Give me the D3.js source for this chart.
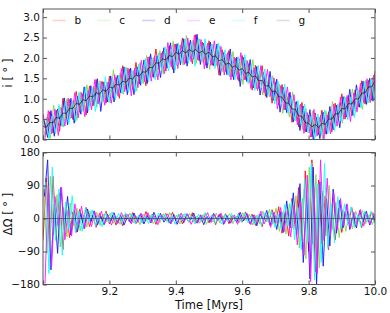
<!DOCTYPE html>
<html>
<head>
<meta charset="utf-8">
<script src="https://cdn.jsdelivr.net/npm/d3@7"></script>
<style>
  body { margin: 0; background: #fff; }
  svg text { font-family: "DejaVu Sans", sans-serif; }
</style>
</head>
<body>
<svg id="chart" width="390" height="313"></svg>
<script>
// planets and their colours
const planetNames = ["b", "c", "d", "e", "f", "g"];
const planetColors = ["#ff1414", "#82d84c", "#1a1aff", "#ff18ff", "#14ffff", "#000000"];

// sample times [Myr]: step 0.01, each planet's output is offset a little
const sampleStep = 0.01;
const sampleShift = [0, 0.002, 0.004, 0.006, 0.008, 0];

// inclination i [deg]
const incB = [0.63,0.13,0.68,0.16,0.72,0.20,1.01,0.52,0.98,0.49,
  1.18,0.67,1.12,0.60,1.31,0.82,1.47,0.96,1.42,0.89,
  1.55,1.03,1.52,1.01,1.81,1.23,1.73,1.23,1.89,1.36,
  1.80,1.32,2.03,1.54,2.22,1.70,2.16,1.68,2.30,1.72,
  2.34,1.94,2.49,1.87,2.37,1.86,2.57,1.93,2.39,1.82,
  2.42,1.82,2.19,1.58,2.20,1.67,2.18,1.54,1.99,1.43,
  2.06,1.47,1.86,1.21,1.82,1.25,1.81,1.06,1.48,0.89,
  1.41,0.84,1.35,0.73,1.13,0.42,0.92,0.31,0.91,0.19,
  0.60,0.06,0.65,0.12,0.72,0.14,0.68,0.19,0.89,0.48,
  1.12,0.50,1.08,0.58,1.22,0.80,1.44,0.87,1.45,0.96,
  1.68];
const incC = [0.00,0.55,0.03,0.84,0.35,0.80,0.31,1.00,0.51,0.97,
  0.47,1.17,0.69,1.34,0.85,1.31,0.79,1.44,0.92,1.41,
  0.90,1.71,1.12,1.62,1.11,1.77,1.25,1.69,1.19,1.88,
  1.37,2.06,1.53,2.01,1.54,2.18,1.60,2.22,1.84,2.41,
  1.82,2.32,1.82,2.55,1.95,2.44,1.87,2.47,1.89,2.30,
  1.72,2.34,1.81,2.30,1.66,2.09,1.54,2.16,1.59,1.98,
  1.35,1.95,1.39,1.96,1.24,1.67,1.09,1.60,1.04,1.56,
  0.95,1.36,0.64,1.15,0.55,1.16,0.45,0.85,0.25,0.76,
  0.16,0.70,0.07,0.54,0.02,0.70,0.28,0.93,0.31,0.90,
  0.40,1.04,0.62,1.24,0.66,1.22,0.74,1.45,0.90,1.52,
  1.10];
const incD = [0.46,0.05,0.71,0.08,0.75,0.34,1.02,0.36,1.01,0.40,
  1.06,0.62,1.29,0.65,1.32,0.84,1.49,0.69,1.41,0.92,
  1.56,0.92,1.57,1.15,1.78,1.10,1.75,1.10,1.78,1.33,
  1.95,1.37,2.10,1.52,2.05,1.52,2.25,1.75,2.37,1.63,
  2.35,1.83,2.47,1.80,2.44,1.97,2.58,1.84,2.36,1.75,
  2.39,1.81,2.34,1.57,2.13,1.59,2.22,1.47,2.02,1.30,
  2.01,1.42,1.96,1.27,1.79,1.09,1.64,1.03,1.67,0.96,
  1.48,0.67,1.28,0.66,1.16,0.43,0.93,0.22,0.82,0.19,
  0.73,0.01,0.54,0.02,0.67,0.13,0.81,0.24,0.84,0.29,
  1.05,0.55,1.23,0.59,1.34,0.79,1.43,0.86,1.50,0.94,
  1.83];
const incE = [0.01,0.71,0.14,0.74,0.10,0.77,0.33,1.01,0.53,1.15,
  0.53,1.15,0.56,1.20,0.73,1.47,0.87,1.42,0.84,1.41,
  0.89,1.59,1.06,1.74,1.17,1.75,1.07,1.75,1.27,1.94,
  1.42,2.02,1.43,2.05,1.46,2.12,1.62,2.38,1.78,2.34,
  1.74,2.32,1.84,2.49,1.91,2.56,1.95,2.45,1.73,2.36,
  1.82,2.42,1.81,2.28,1.58,2.13,1.46,2.02,1.47,2.13,
  1.46,1.93,1.25,1.76,1.20,1.81,1.15,1.72,1.06,1.51,
  0.75,1.32,0.72,1.29,0.65,1.10,0.36,0.87,0.15,0.66,
  0.06,0.74,0.09,0.60,0.00,0.60,0.14,0.87,0.33,1.04,
  0.50,1.08,0.44,1.14,0.68,1.38,0.90,1.49,0.91,1.58,
  1.02];
const incF = [0.54,0.02,0.58,0.14,0.86,0.31,0.93,0.39,0.95,0.43,
  1.15,0.69,1.28,0.72,1.27,0.69,1.39,0.92,1.54,0.91,
  1.45,0.97,1.58,1.12,1.77,1.15,1.69,1.17,1.85,1.38,
  1.98,1.42,1.97,1.47,2.12,1.68,2.28,1.68,2.22,1.70,
  2.36,1.88,2.46,1.87,2.39,1.80,2.47,1.95,2.47,1.86,
  2.34,1.74,2.37,1.74,2.20,1.57,2.04,1.46,2.03,1.49,
  2.08,1.37,1.83,1.20,1.82,1.27,1.73,1.08,1.52,0.87,
  1.43,0.86,1.36,0.63,1.05,0.46,0.96,0.37,0.87,0.16,
  0.58,0.00,0.63,0.12,0.72,0.14,0.70,0.21,0.87,0.44,
  1.06,0.48,1.04,0.54,1.22,0.78,1.42,0.89,1.47,0.98,
  1.70];
const incG = [0.32,0.30,0.42,0.41,0.54,0.52,0.65,0.64,0.77,0.76,
  0.89,0.86,0.98,0.95,1.07,1.04,1.15,1.11,1.22,1.18,
  1.29,1.26,1.36,1.33,1.43,1.40,1.51,1.48,1.59,1.55,
  1.66,1.65,1.77,1.76,1.88,1.87,1.98,1.95,2.06,2.03,
  2.14,2.09,2.18,2.12,2.21,2.15,2.21,2.12,2.17,2.09,
  2.14,2.03,2.05,1.93,1.96,1.84,1.88,1.77,1.81,1.70,
  1.74,1.62,1.65,1.53,1.56,1.44,1.45,1.31,1.32,1.18,
  1.19,1.05,1.04,0.90,0.89,0.75,0.74,0.58,0.57,0.41,
  0.40,0.31,0.37,0.29,0.40,0.37,0.50,0.50,0.63,0.63,
  0.76,0.75,0.88,0.87,1.00,0.99,1.14,1.14,1.29,1.29,
  1.44];

// node difference dOmega [deg]
const nodeB = [-60,110,-90,115,-40,70,-85,30,-52,18,
  -38,25,-12,30,-22,8,-24,14,-6,20,
  -15,10,-18,4,-20,12,-8,16,-14,6,
  -11,19,-4,12,-16,9,-2,14,-12,17,
  -7,11,-15,5,-10,16,-13,3,-9,14,
  -12,8,-17,11,-5,13,-14,9,-6,15,
  -10,18,-8,12,-19,6,-22,14,-10,24,
  -18,32,-40,22,-48,55,-30,85,-60,130,
  -90,160,-145,105,-70,62,-85,35,-58,28,
  -38,20,-14,30,-22,9,-25,16,-8,18,
  -12];
const nodeC = [80,-95,115,-45,65,-78,30,-50,42,-20,
  28,-33,10,-24,20,-6,17,-19,11,-9,
  14,-13,5,-16,10,-4,15,-12,7,-17,
  12,-6,10,-14,3,-11,13,-8,16,-5,
  9,-15,12,-3,14,-10,6,-13,11,-16,
  4,-9,15,-12,8,-3,13,-14,7,-11,
  16,-6,12,-18,9,-14,20,-10,25,-16,
  28,-35,18,-42,40,-25,62,-80,55,-110,
  140,-70,120,-135,75,-48,90,-30,45,-52,
  22,-35,12,-28,20,-8,22,-14,10,-17,
  12];
const nodeD = [60,160,-140,40,-95,85,-30,60,-45,22,
  -36,14,-28,26,-9,21,-18,6,-17,12,
  -8,16,-13,9,-18,4,-12,15,-6,13,
  -15,8,-12,17,-5,14,-10,3,-14,11,
  -16,7,-11,13,-4,15,-12,10,-17,6,
  -9,14,-3,12,-16,8,-13,5,-11,17,
  -7,13,-15,9,-20,12,-6,22,-19,15,
  -30,20,-38,48,-26,70,-45,95,-120,60,
  -165,140,-180,100,-130,55,-75,80,-40,50,
  -25,38,-30,14,-26,22,-10,20,-18,8,
  -14];
const nodeE = [-178,90,-130,60,-20,85,-58,25,-48,40,
  -15,34,-25,12,-22,18,-7,20,-14,9,
  -18,6,-13,16,-4,12,-15,9,-11,14,
  -5,16,-12,7,-17,10,-3,13,-14,6,
  -10,15,-8,12,-16,4,-13,9,-6,16,
  -11,12,-7,15,-14,3,-12,10,-16,8,
  -4,13,-17,10,-12,20,-15,8,-24,18,
  -14,30,-36,22,-50,35,-72,45,-100,118,
  -172,85,-150,160,-60,110,-48,70,-30,55,
  -20,40,-28,18,-12,25,-20,10,-16,14,
  -9];
const nodeF = [100,-150,140,-60,80,-100,45,-30,62,-38,
  20,-35,30,-10,24,-20,5,-22,16,-11,
  18,-7,14,-12,16,-3,12,-15,9,-13,
  6,-14,11,-9,15,-4,12,-13,8,-16,
  13,-5,14,-10,7,-15,12,-8,16,-6,
  10,-13,4,-15,11,-9,14,-6,12,-10,
  15,-12,8,-16,11,-20,15,-9,21,-24,
  12,-30,38,-20,46,-58,30,-85,110,-65,
  150,-168,95,-120,150,-82,40,-66,60,-28,
  40,-18,32,-24,10,-22,19,-8,20,-12,
  14];
const nodeGTimes = [9.0, 10.0];
const nodeG = [0, 0];

// ticks
const timeTicks = [9.0, 9.2, 9.4, 9.6, 9.8, 10.0];
const incTicks = [0.0, 0.5, 1.0, 1.5, 2.0, 2.5, 3.0];
const nodeTicks = [-180, -90, 0, 90, 180];

// ---- layout
const svg = d3.select("#chart");
const plotLeft = 43, plotRight = 375;
const incTop = 9, incBottom = 139.5;
const nodeTop = 152.5, nodeBottom = 284.5;
const axisColor = "#555";
const textColor = "#111";

const x = d3.scaleLinear().domain([9, 10]).range([plotLeft, plotRight]);
const yInc = d3.scaleLinear().domain([0, 3.2]).range([incBottom, incTop]);
const yNode = d3.scaleLinear().domain([-180, 180]).range([nodeBottom, nodeTop]);

const timesFor = (vals, i) => vals.map((v, k) => 9 + k * sampleStep + sampleShift[i]);

const incSeries = [incB, incC, incD, incE, incF, incG].map((v, i) => ({
  name: planetNames[i], color: planetColors[i], t: timesFor(v, i), v: v
}));
const nodeSeries = [nodeB, nodeC, nodeD, nodeE, nodeF].map((v, i) => ({
  name: planetNames[i], color: planetColors[i], t: timesFor(v, i), v: v
}));
nodeSeries.push({ name: "g", color: "#1a3a4a", t: nodeGTimes, v: nodeG });

function drawPanel(id, yScale, series, yTicks, yFmt, showXLabels) {
  const top = yScale.range()[1], bottom = yScale.range()[0];
  const panel = svg.append("g").attr("id", id);

  panel.append("clipPath").attr("id", id + "-clip")
    .append("rect")
      .attr("x", plotLeft).attr("y", top)
      .attr("width", plotRight - plotLeft).attr("height", bottom - top);

  const lines = panel.append("g").attr("clip-path", `url(#${id}-clip)`);
  lines.selectAll("path")
    .data(series)
    .join("path")
      .attr("fill", "none")
      .attr("stroke", d => d.color)
      .attr("stroke-width", d => d.name === "g" ? 0.8 : 1)
      .attr("stroke-opacity", d => d.name === "g" ? 0.75 : 0.92)
      .attr("d", d => d3.line()
        .x((val, i) => x(d.t[i]))
        .y(val => yScale(val))(d.v));

  // inward ticks on all four sides
  const styleAxis = g => {
    g.select(".domain").remove();
    g.attr("color", axisColor)
      .attr("font-size", 10.5)
      .attr("font-family", "DejaVu Sans, sans-serif");
    g.selectAll("text").attr("fill", textColor);
  };

  panel.append("g")
    .attr("transform", `translate(${plotLeft},0)`)
    .call(d3.axisLeft(yScale).tickValues(yTicks).tickFormat(yFmt)
      .tickSizeInner(-4).tickSizeOuter(0).tickPadding(3))
    .call(styleAxis);

  panel.append("g")
    .attr("transform", `translate(${plotRight},0)`)
    .call(d3.axisRight(yScale).tickValues(yTicks).tickFormat("")
      .tickSizeInner(-4).tickSizeOuter(0))
    .call(styleAxis);

  panel.append("g")
    .attr("transform", `translate(0,${top})`)
    .call(d3.axisTop(x).tickValues(timeTicks).tickFormat("")
      .tickSizeInner(-4).tickSizeOuter(0))
    .call(styleAxis);

  panel.append("g")
    .attr("transform", `translate(0,${bottom})`)
    .call(d3.axisBottom(x).tickValues(timeTicks)
      .tickFormat(showXLabels ? (d => d === 9 ? "" : d3.format(".1f")(d)) : "")
      .tickSizeInner(-4).tickSizeOuter(0).tickPadding(3))
    .call(styleAxis);

  panel.append("rect")
    .attr("x", plotLeft).attr("y", top)
    .attr("width", plotRight - plotLeft).attr("height", bottom - top)
    .attr("fill", "none")
    .attr("stroke", axisColor)
    .attr("stroke-width", 1);
}

drawPanel("inc", yInc, incSeries, incTicks, d3.format(".1f"), false);
drawPanel("node", yNode, nodeSeries, nodeTicks, d3.format("d"), true);

// legend (faded sample lines, no frame)
const legend = svg.append("g").attr("id", "legend");
const legendItems = legend.selectAll("g")
  .data(planetNames)
  .join("g")
    .attr("transform", (d, i) => `translate(${52.5 + i * 44.8},20.5)`);
legendItems.append("line")
  .attr("x1", 0).attr("x2", 13)
  .attr("stroke", (d, i) => planetColors[i])
  .attr("stroke-opacity", (d, i) => i === 5 ? 0.13 : 0.2)
  .attr("stroke-width", 1.6);
legendItems.append("text")
  .attr("x", 22).attr("dy", "0.35em")
  .attr("font-size", 10.5)
  .attr("fill", textColor)
  .text(d => d);

// axis labels
svg.append("text")
  .attr("transform", `translate(11.5,73) rotate(-90)`)
  .attr("text-anchor", "middle")
  .attr("font-size", 11.5)
  .attr("fill", textColor)
  .text("i [ ° ]");

svg.append("text")
  .attr("transform", `translate(11.5,214) rotate(-90)`)
  .attr("text-anchor", "middle")
  .attr("font-size", 11.5)
  .attr("fill", textColor)
  .text("ΔΩ [ ° ]");

svg.append("text")
  .attr("x", (plotLeft + plotRight) / 2)
  .attr("y", 309)
  .attr("text-anchor", "middle")
  .attr("font-size", 11.5)
  .attr("fill", textColor)
  .text("Time [Myrs]");
</script>
</body>
</html>
